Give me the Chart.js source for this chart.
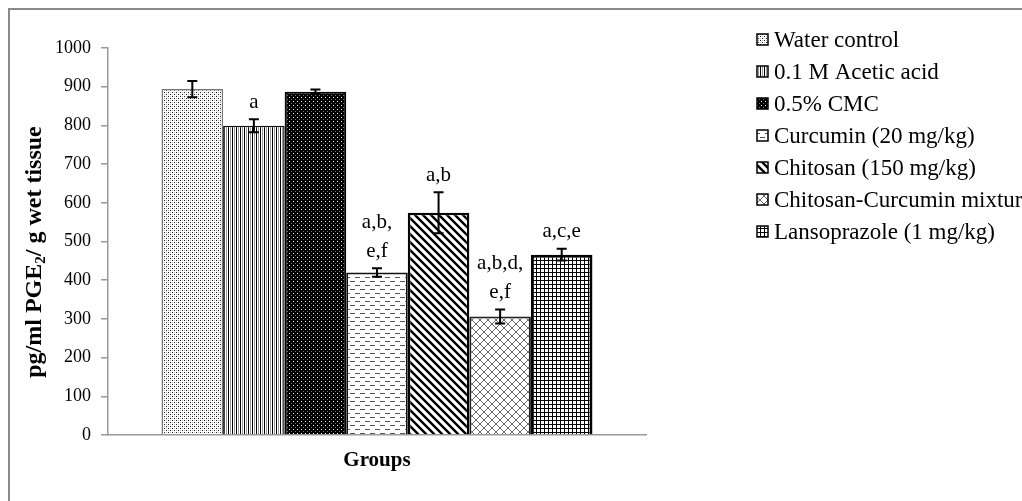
<!DOCTYPE html>
<html>
<head>
<meta charset="utf-8">
<script src="https://cdn.jsdelivr.net/npm/chart.js@4"></script>
<style>
  html, body { margin: 0; padding: 0; background: #fff; }
  #wrap { width: 1022px; height: 501px; }
</style>
</head>
<body>
<div id="wrap"><canvas id="grafico" width="1022" height="501"></canvas></div>
<script>
const grupos = ['Water control', '0.1 M Acetic acid', '0.5% CMC', 'Curcumin (20 mg/kg)',
    'Chitosan (150 mg/kg)', 'Chitosan-Curcumin mixture', 'Lansoprazole (1 mg/kg)'];
const valoresPGE2 = [894, 799, 887, 420, 574, 306, 466];
const errores = [21, 17, 6, 11, 53, 18, 15];
const letras = [[], ['a'], [], ['a,b,', 'e,f'], ['a,b'], ['a,b,d,', 'e,f'], ['a,c,e']];
const ejeY = { min: 0, max: 1000, paso: 100 };

const lienzo = document.getElementById('grafico');
const ctx = lienzo.getContext('2d');
const SERIF = '"Liberation Serif", "Times New Roman", serif';

// patrones de relleno tipo Excel
function crearPatron(w, h, dibujar) {
    let c = document.createElement('canvas');
    c.width = w; c.height = h;
    let g = c.getContext('2d');
    g.fillStyle = '#fff';
    g.fillRect(0, 0, w, h);
    dibujar(g);
    return ctx.createPattern(c, 'repeat');
}

const patrones = [
    crearPatron(4, 4, g => {
        g.fillStyle = '#222'; g.fillRect(0, 0, 1, 1); g.fillRect(2, 2, 1, 1);
        g.fillStyle = '#bbb'; g.fillRect(2, 0, 1, 1); g.fillRect(0, 2, 1, 1);
    }),
    crearPatron(4, 4, g => {
        g.fillStyle = '#000'; g.fillRect(0, 0, 1, 4);
        g.fillStyle = '#999'; g.fillRect(2, 0, 1, 4);
    }),
    crearPatron(4, 4, g => {
        g.fillStyle = '#000'; g.fillRect(0, 0, 4, 4);
        g.fillStyle = '#fff'; g.fillRect(1, 1, 1, 1);
        g.fillStyle = '#777'; g.fillRect(3, 3, 1, 1);
    }),
    crearPatron(10, 8, g => {
        g.fillStyle = '#555';
        g.fillRect(0, 1, 5, 1);
        g.fillRect(5, 5, 5, 1);
    }),
    crearPatron(8, 8, g => {
        g.strokeStyle = '#000'; g.lineWidth = 2.4;
        g.beginPath();
        g.moveTo(-2, -2); g.lineTo(10, 10);
        g.moveTo(-6, 2); g.lineTo(2, 10);
        g.moveTo(6, -2); g.lineTo(10, 2);
        g.stroke();
    }),
    crearPatron(8, 8, g => {
        g.strokeStyle = '#666'; g.lineWidth = 1;
        g.beginPath();
        g.moveTo(0, 0); g.lineTo(8, 8);
        g.moveTo(8, 0); g.lineTo(0, 8);
        g.stroke();
    }),
    crearPatron(4, 4, g => {
        g.fillStyle = '#000';
        g.fillRect(0, 0, 4, 1);
        g.fillRect(0, 0, 1, 4);
    })
];
const bordes = ['#777', '#111', '#000', '#111', '#000', '#222', '#000'];
const grosores = [1.5, 1.5, 2, 2, 2.5, 2, 3];

const extras = {
    id: 'extras',
    beforeDraw(chart) {
        let c = chart.ctx;
        c.save();
        c.strokeStyle = '#8a8a8a';
        c.lineWidth = 2;
        c.beginPath();
        c.moveTo(9, 501); c.lineTo(9, 9); c.lineTo(1022, 9);
        c.stroke();
        c.restore();
    },
    afterDatasetsDraw(chart) {
        let c = chart.ctx;
        let y = chart.scales.y;
        c.save();
        chart.data.datasets.forEach((ds, i) => {
            let barra = chart.getDatasetMeta(i).data[0];
            let x = barra.x;
            let v = ds.data[0];
            let e = errores[i];
            let yArriba = y.getPixelForValue(v + e);
            let yAbajo = y.getPixelForValue(v - e);
            c.strokeStyle = '#000';
            c.lineWidth = 2;
            c.beginPath();
            c.moveTo(x, yArriba); c.lineTo(x, yAbajo);
            c.moveTo(x - 5, yArriba); c.lineTo(x + 5, yArriba);
            c.moveTo(x - 5, yAbajo); c.lineTo(x + 5, yAbajo);
            c.stroke();

            let lineas = letras[i];
            c.fillStyle = '#000';
            c.font = '21px ' + SERIF;
            c.textAlign = 'center';
            c.textBaseline = 'middle';
            for (let k = 0; k < lineas.length; k++) {
                let yy = yArriba - 17 - (lineas.length - 1 - k) * 29;
                c.fillText(lineas[k], x, yy);
            }
        });
        c.restore();
    },
    afterDraw(chart) {
        let c = chart.ctx;
        c.save();
        // leyenda
        chart.data.datasets.forEach((ds, i) => {
            let yc = 40 + i * 32;
            c.fillStyle = ds.backgroundColor;
            c.fillRect(757, yc - 6, 11, 11);
            c.strokeStyle = '#000';
            c.lineWidth = 1.5;
            c.strokeRect(757, yc - 6, 11, 11);
            c.fillStyle = '#000';
            c.font = '23px ' + SERIF;
            c.textAlign = 'left';
            c.textBaseline = 'middle';
            c.fillText(ds.label, 774, yc + 1);
        });
        // titulo eje Y con subindice
        c.translate(35, 252);
        c.rotate(-Math.PI / 2);
        let partes = [
            { t: 'pg/ml PGE', f: 'bold 24px ' + SERIF, dy: 0 },
            { t: '2', f: 'bold 15px ' + SERIF, dy: 6 },
            { t: '/ g wet tissue', f: 'bold 24px ' + SERIF, dy: 0 }
        ];
        let total = 0;
        partes.forEach(p => { c.font = p.f; total += c.measureText(p.t).width; });
        let xx = -total / 2;
        c.textBaseline = 'middle';
        c.textAlign = 'left';
        partes.forEach(p => {
            c.font = p.f;
            c.fillText(p.t, xx, p.dy);
            xx += c.measureText(p.t).width;
        });
        c.restore();
    }
};

const datasets = grupos.map((g, i) => ({
    label: g,
    data: [valoresPGE2[i]],
    backgroundColor: patrones[i],
    borderColor: bordes[i],
    borderWidth: grosores[i],
    categoryPercentage: 0.801,
    barPercentage: 1
}));

new Chart(lienzo, {
    type: 'bar',
    data: { labels: [''], datasets: datasets },
    options: {
        responsive: false,
        animation: false,
        layout: { padding: { left: 0, right: 376, top: 48, bottom: 0 } },
        plugins: {
            legend: { display: false },
            tooltip: { enabled: false }
        },
        scales: {
            x: {
                grid: { display: false },
                border: { display: true, color: '#999', width: 1.5 },
                ticks: { display: false },
                title: {
                    display: true,
                    text: 'Groups',
                    color: '#000',
                    font: { family: SERIF, size: 21, weight: 'bold' },
                    padding: { top: 0, bottom: 28 }
                },
                afterFit(scale) { scale.height = 66; }
            },
            y: {
                min: ejeY.min,
                max: ejeY.max,
                grid: { display: true, drawOnChartArea: false, drawTicks: true, tickLength: 7, color: '#999', lineWidth: 1.5 },
                border: { display: true, color: '#999', width: 1.5 },
                ticks: {
                    stepSize: ejeY.paso,
                    padding: 10,
                    color: '#000',
                    font: { family: SERIF, size: 18 },
                    callback: v => String(v)
                },
                afterFit(scale) { scale.width = 108; }
            }
        }
    },
    plugins: [extras]
});
</script>
</body>
</html>
